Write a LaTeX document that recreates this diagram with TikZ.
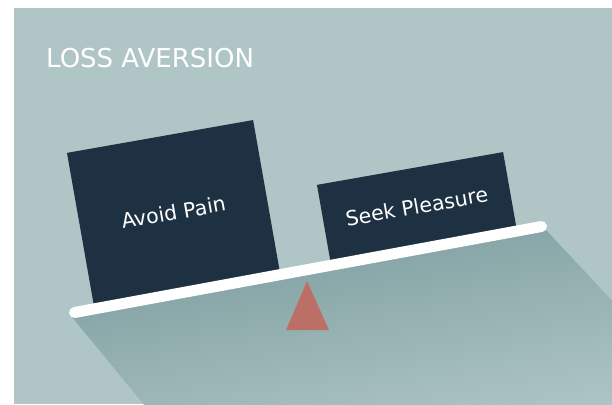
\documentclass[tikz,border=0pt]{standalone}
\usepackage{fontspec}
\setmainfont{DejaVu Sans}
\definecolor{panel}{HTML}{AFC5C6}
\definecolor{shadowtop}{HTML}{7C9D9E}
\definecolor{cardblue}{HTML}{1E3142}
\definecolor{fulcrum}{HTML}{BB6F67}

\begin{document}
\begin{tikzpicture}[x=1pt,y=-1pt,font=\fontsize{20.5}{24}\selectfont]
\tikzstyle{card}=[fill=cardblue,text=white,rotate=10,minimum width=189pt,inner sep=0pt]
\tikzstyle{plank}=[white,line width=11pt,line cap=round]
\fill[white] (0,0) rectangle (612,404);
\useasboundingbox (0,0) rectangle (612,404);
\fill[panel] (14,8) rectangle (612,404);
\node[anchor=base west,text=white,inner sep=0pt,font=\fontsize{26}{30}\selectfont] (title) at (46,67) {LOSS AVERSION};
% shadow of the plank
\begin{scope}
\clip (14,8) rectangle (612,404);
\shade[top color=shadowtop,bottom color=panel,shading angle=10] (72,317) -- (546,230) -- (716,412) -- (150,412) -- cycle;
\end{scope}
\node[card,minimum height=154pt] (pain) at (173.4,212.3) {Avoid Pain};
\node[card,minimum height=77pt] (pleasure) at (416.7,206.4) {Seek Pleasure};
\coordinate (pl) at (74.5,312.5);
\coordinate (pr) at (541.5,226.5);
\draw[plank] (pl) -- (pr);
\fill[fulcrum] (307,281) -- (329,330) -- (286,330) -- cycle;
\end{tikzpicture}
\end{document}
